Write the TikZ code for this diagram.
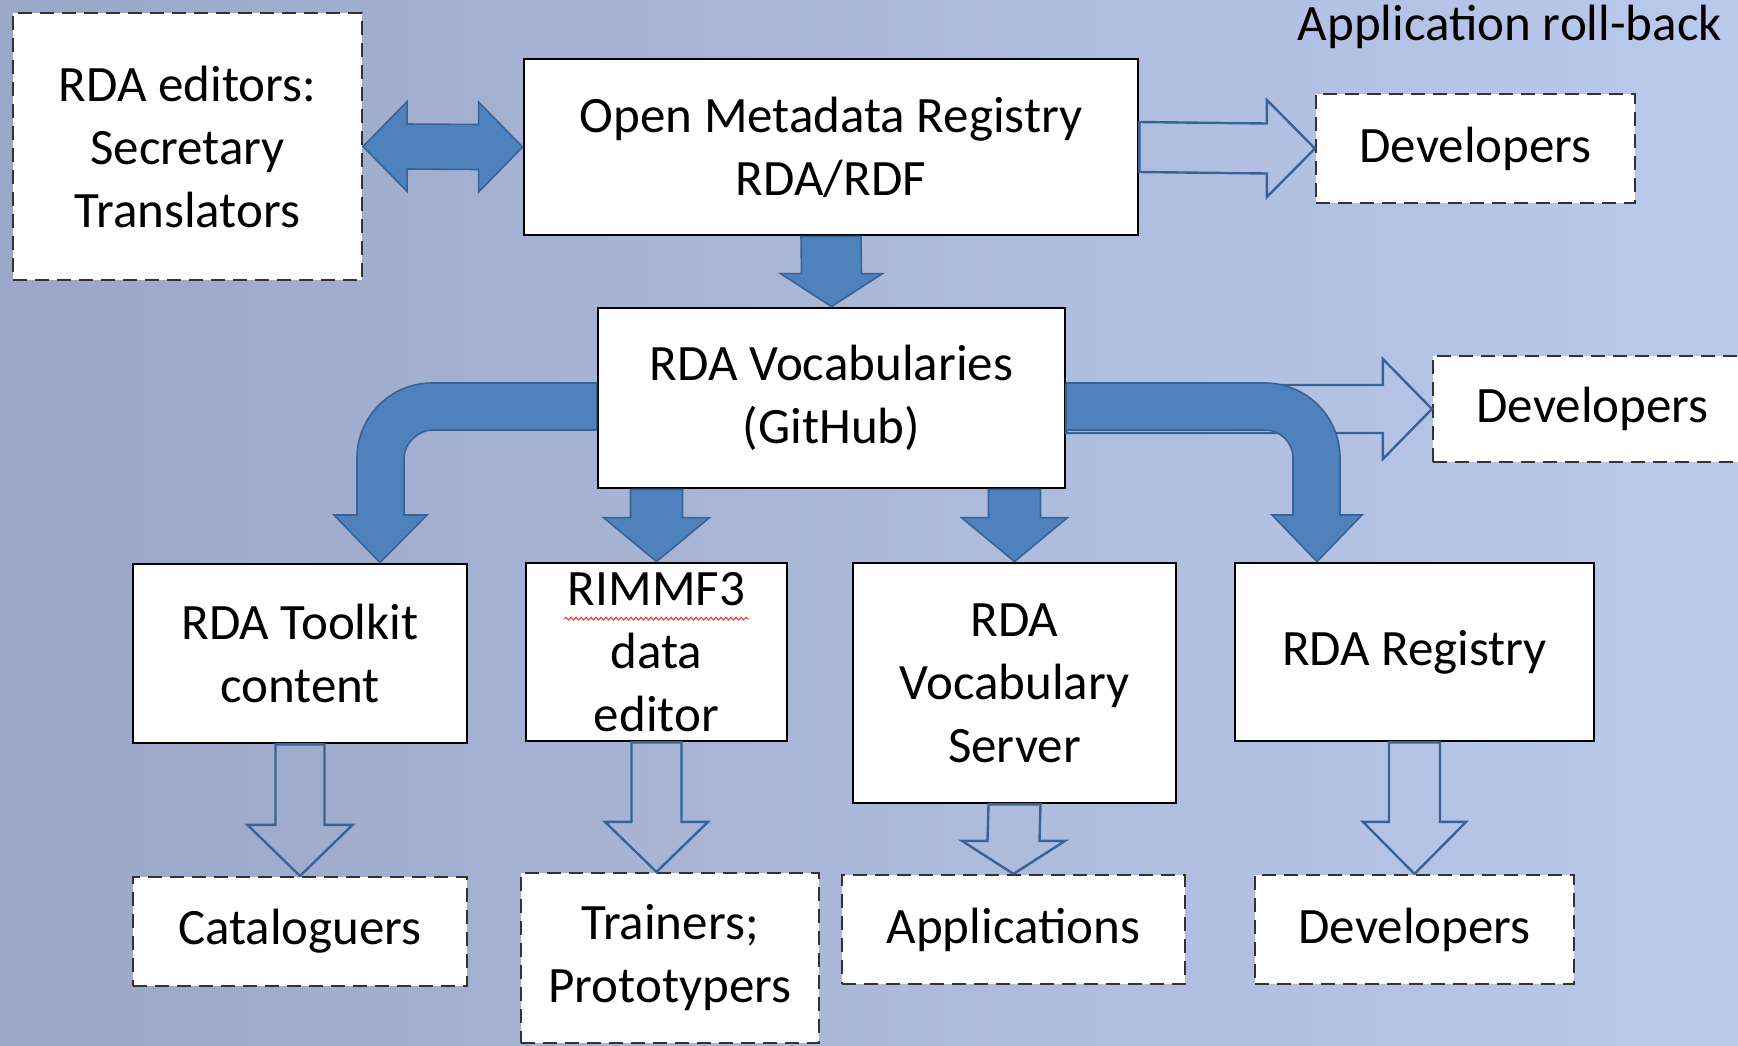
\documentclass[tikz,border=0pt]{standalone}
\usepackage{fontspec}
\setmainfont{Carlito}
\usepackage{tikz}
\usetikzlibrary{calc,decorations.pathmorphing}

\definecolor{bgleft}{RGB}{155,166,200}
\definecolor{bgmid}{RGB}{165,179,215}
\definecolor{bgright}{RGB}{186,202,236}
\definecolor{arrowfill}{RGB}{79,129,189}
\definecolor{arrowline}{RGB}{58,98,148}

\begin{document}
\begin{tikzpicture}[x=0.5pt, y=-0.5pt,
  box/.style={rectangle, draw, fill=white, inner sep=0pt, align=center,
    font=\fontsize{25.5}{31.5}\selectfont},
  solidbox/.style={box, line width=1.4pt},
  dashbox/.style={box, draw=black!80, line width=1.1pt, dash pattern=on 7pt off 4pt},
  solidarrow/.style={fill=arrowfill, draw=arrowline, line width=0.8pt, line join=miter},
  hollowarrow/.style={draw=arrowline, line width=1.2pt, line join=miter},
  blockdown/.style n args={3}{to path={
    ($(\tikztostart)+(-#1,0)$) -- ($(\tikztotarget)+(-#1,-#3)$) -- ($(\tikztotarget)+(-#2,-#3)$)
    -- (\tikztotarget) -- ($(\tikztotarget)+(#2,-#3)$) -- ($(\tikztotarget)+(#1,-#3)$)
    -- ($(\tikztostart)+(#1,0)$) -- cycle}},
  blockright/.style n args={3}{to path={
    ($(\tikztostart)+(0,-#1)$) -- ($(\tikztotarget)+(-#3,-#1)$) -- ($(\tikztotarget)+(-#3,-#2)$)
    -- (\tikztotarget) -- ($(\tikztotarget)+(-#3,#2)$) -- ($(\tikztotarget)+(-#3,#1)$)
    -- ($(\tikztostart)+(0,#1)$) -- cycle}},
  blockboth/.style n args={3}{to path={
    (\tikztostart) -- ($(\tikztostart)+(#3,-#2)$) -- ($(\tikztostart)+(#3,-#1)$)
    -- ($(\tikztotarget)+(-#3,-#1)$) -- ($(\tikztotarget)+(-#3,-#2)$) -- (\tikztotarget)
    -- ($(\tikztotarget)+(-#3,#2)$) -- ($(\tikztotarget)+(-#3,#1)$)
    -- ($(\tikztostart)+(#3,#1)$) -- ($(\tikztostart)+(#3,#2)$) -- cycle}}]

  \useasboundingbox (0,0) rectangle (1738,1045);
  \shade[left color=bgleft, middle color=bgmid, right color=bgright] (0,0) rectangle (1738,1045);

  \node[dashbox, minimum width=174.5pt, minimum height=133.5pt] (editors) at (187.5,146.5) {RDA editors:\\Secretary\\Translators};
  \node[solidbox, minimum width=307pt, minimum height=88pt] (omr) at (831,147) {Open Metadata Registry\\RDA/RDF};
  \node[dashbox, minimum width=159.5pt, minimum height=54.5pt] (devtop) at (1475.5,148.5) {Developers};
  \node[anchor=base east, font=\fontsize{25.5}{31.5}\selectfont] (rollback) at (1729,40) {Application roll-back};

  \node[solidbox, minimum width=233.5pt, minimum height=90pt] (vocab) at (831.5,398) {RDA Vocabularies\\(GitHub)};
  \node[dashbox, minimum width=159.5pt, minimum height=53pt] (devmid) at (1592.5,409) {Developers};

  \node[solidbox, minimum width=167pt, minimum height=89.5pt] (toolkit) at (300,653.5) {RDA Toolkit\\content};
  \node[solidbox, minimum width=130.5pt, minimum height=89pt] (rimmf) at (656.5,652) {RIMMF3\\data\\editor};
  \node[solidbox, minimum width=161.5pt, minimum height=120pt] (server) at (1014.5,683) {RDA\\Vocabulary\\Server};
  \node[solidbox, minimum width=179.5pt, minimum height=89pt] (registry) at (1414.5,652) {RDA Registry};

  \node[dashbox, minimum width=167pt, minimum height=54.5pt] (catalog) at (300,931.5) {Cataloguers};
  \node[dashbox, minimum width=149pt, minimum height=85pt] (trainers) at (670,958) {Trainers;\\Prototypers};
  \node[dashbox, minimum width=171.5pt, minimum height=54.5pt] (apps) at (1013.5,929.5) {Applications};
  \node[dashbox, minimum width=159.5pt, minimum height=54.5pt] (devbot) at (1414.5,929.5) {Developers};

  % spell-check squiggle
  \draw[red!85, line width=0.5pt, decorate, decoration={snake, amplitude=0.7pt, segment length=2.5pt}]
    ($(rimmf.north)+(-92,57)$) -- ($(rimmf.north)+(92,57)$);

  \path[solidarrow] (editors.east) to[blockboth={22.5}{45}{44}] (omr.west);
  \path[solidarrow] (omr.south) to[blockdown={30}{51}{33}] (vocab.north);
  \draw[hollowarrow] (omr.east) to[blockright={25}{48.5}{48}] (devtop.west);
  \draw[hollowarrow] (vocab.east |- devmid.west) to[blockright={24}{50}{49}] (devmid.west);

  \path[solidarrow] ($(vocab.west)+(0,-15)$) -- (432,383) .. controls (390.6,383) and (357,416.6) .. (357,458)
    -- (357,515) -- (334,515) -- ($(toolkit.north)+(80,0)$) -- (427,515) -- (404,515)
    -- (404,458) .. controls (404,442.5) and (419.5,430) .. (432,430) -- ($(vocab.west)+(0,32)$) -- cycle;
  \path[solidarrow] ($(vocab.east)+(0,-15)$) -- (1265,383) .. controls (1306.4,383) and (1340,416.6) .. (1340,458)
    -- (1340,515) -- (1362,515) -- ($(registry.north)+(-97.5,0)$) -- (1272,515) -- (1293,515)
    -- (1293,458) .. controls (1293,442.5) and (1280.5,430) .. (1265,430) -- ($(vocab.east)+(0,32)$) -- cycle;
  \path[solidarrow] (rimmf.north |- vocab.south) to[blockdown={26}{53}{44}] (rimmf.north);
  \path[solidarrow] (server.north |- vocab.south) to[blockdown={26}{53}{44}] (server.north);

  \draw[hollowarrow] (toolkit.south) to[blockdown={24.5}{52.5}{51}] (catalog.north);
  \draw[hollowarrow] (rimmf.south) to[blockdown={25}{51.5}{50}] (rimmf.south |- trainers.north);
  \draw[hollowarrow] (server.south) to[blockdown={26}{51.5}{33}] (apps.north);
  \draw[hollowarrow] (registry.south) to[blockdown={25.5}{51.5}{52}] (devbot.north);
\end{tikzpicture}
\end{document}
